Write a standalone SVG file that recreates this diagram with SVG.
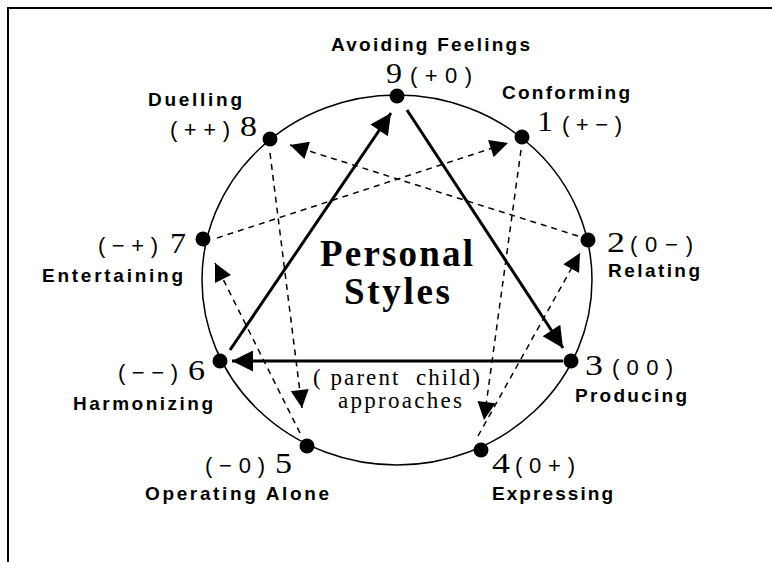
<svg xmlns="http://www.w3.org/2000/svg" width="772" height="562" viewBox="0 0 772 562">
<style>
.lab{font-family:"Liberation Sans",Arial,sans-serif;font-weight:bold;font-size:19px;fill:#000}
.num{font-family:"Liberation Serif","Times New Roman",serif;font-size:30px;fill:#000}
.sig{font-family:"Liberation Sans",Arial,sans-serif;font-size:22px;fill:#000}
.title{font-family:"Liberation Serif","Times New Roman",serif;font-weight:bold;font-size:37px;fill:#000}
.sub{font-family:"Liberation Serif","Times New Roman",serif;font-size:23px;fill:#000}
.solid{stroke:#000;stroke-width:3;fill:none}
.dash{stroke:#000;stroke-width:1.5;stroke-dasharray:6,5;fill:none}
.dot{fill:#000}
</style>
<defs>
<marker id="big" viewBox="0 0 10 10" refX="10" refY="5" markerWidth="9.5" markerHeight="7" markerUnits="strokeWidth" orient="auto">
<path d="M0,0 L10,5 L0,10 z" fill="#000"/>
</marker>
<marker id="small" viewBox="0 0 10 10" refX="10" refY="5" markerWidth="13" markerHeight="12" markerUnits="strokeWidth" orient="auto">
<path d="M0,0 L10,5 L0,10 z" fill="#000"/>
</marker>
</defs>
<rect x="0" y="0" width="772" height="562" fill="#fff"/>
<path d="M8,562 V8 H772" stroke="#000" stroke-width="2" fill="none"/>
<ellipse cx="397" cy="280" rx="195" ry="185" fill="none" stroke="#000" stroke-width="1.5"/>
<g id="connectors">
<line class="solid" x1="230" y1="350" x2="391" y2="113" marker-end="url(#big)"/>
<line class="solid" x1="407" y1="110" x2="563" y2="348" marker-end="url(#big)"/>
<line class="solid" x1="563" y1="361" x2="232" y2="361" marker-end="url(#big)"/>
<line class="dash" x1="521" y1="150" x2="484" y2="420" marker-end="url(#small)"/>
<line class="dash" x1="478" y1="436" x2="580" y2="253" marker-end="url(#small)"/>
<line class="dash" x1="578" y1="236" x2="290" y2="145" marker-end="url(#small)"/>
<line class="dash" x1="270" y1="153" x2="302" y2="408" marker-end="url(#small)"/>
<line class="dash" x1="300" y1="433" x2="215" y2="263" marker-end="url(#small)"/>
<line class="dash" x1="217" y1="238" x2="508" y2="143" marker-end="url(#small)"/>
</g>
<g id="n9"><circle class="dot" cx="397" cy="96" r="7.5"/><text class="lab" x="331" y="51" textLength="199" lengthAdjust="spacing">Avoiding Feelings</text><text class="num" x="386" y="83" textLength="16" lengthAdjust="spacingAndGlyphs">9</text><text class="sig" x="410" y="83" textLength="62" lengthAdjust="spacing">(+0)</text></g>
<g id="n1"><circle class="dot" cx="522" cy="137" r="7.5"/><text class="lab" x="502" y="99" textLength="128" lengthAdjust="spacing">Conforming</text><text class="num" x="537" y="131" textLength="16" lengthAdjust="spacingAndGlyphs">1</text><text class="sig" x="562" y="132" textLength="60" lengthAdjust="spacing">(+−)</text></g>
<g id="n2"><circle class="dot" cx="588" cy="240" r="7.5"/><text class="num" x="607" y="252" textLength="18" lengthAdjust="spacingAndGlyphs">2</text><text class="sig" x="630" y="252" textLength="63" lengthAdjust="spacing">(0−)</text><text class="lab" x="608" y="277" textLength="92" lengthAdjust="spacing">Relating</text></g>
<g id="n3"><circle class="dot" cx="571" cy="361" r="7.5"/><text class="num" x="585" y="375" textLength="18" lengthAdjust="spacingAndGlyphs">3</text><text class="sig" x="612" y="375" textLength="61" lengthAdjust="spacing">(00)</text><text class="lab" x="575" y="402" textLength="112" lengthAdjust="spacing">Producing</text></g>
<g id="n4"><circle class="dot" cx="481" cy="450" r="7.5"/><text class="num" x="492" y="473" textLength="18" lengthAdjust="spacingAndGlyphs">4</text><text class="sig" x="515" y="473" textLength="60" lengthAdjust="spacing">(0+)</text><text class="lab" x="492" y="500" textLength="121" lengthAdjust="spacing">Expressing</text></g>
<g id="n5"><circle class="dot" cx="307" cy="446" r="7.5"/><text class="sig" x="205" y="473" textLength="60" lengthAdjust="spacing">(−0)</text><text class="num" x="275" y="473" textLength="17" lengthAdjust="spacingAndGlyphs">5</text><text class="lab" x="145" y="500" textLength="184" lengthAdjust="spacing">Operating Alone</text></g>
<g id="n6"><circle class="dot" cx="220" cy="361" r="7.5"/><text class="sig" x="118" y="380" textLength="60" lengthAdjust="spacing">(−−)</text><text class="num" x="188" y="380" textLength="17" lengthAdjust="spacingAndGlyphs">6</text><text class="lab" x="73" y="410" textLength="140" lengthAdjust="spacing">Harmonizing</text></g>
<g id="n7"><circle class="dot" cx="203" cy="239" r="7.5"/><text class="sig" x="98" y="253" textLength="60" lengthAdjust="spacing">(−+)</text><text class="num" x="170" y="253" textLength="16" lengthAdjust="spacingAndGlyphs">7</text><text class="lab" x="42" y="282" textLength="141" lengthAdjust="spacing">Entertaining</text></g>
<g id="n8"><circle class="dot" cx="270" cy="139" r="7.5"/><text class="lab" x="148" y="106" textLength="94" lengthAdjust="spacing">Duelling</text><text class="sig" x="170" y="137" textLength="60" lengthAdjust="spacing">(++)</text><text class="num" x="240" y="136" textLength="17" lengthAdjust="spacingAndGlyphs">8</text></g>
<g id="center"><text class="title" x="320" y="266" textLength="153" lengthAdjust="spacing">Personal</text><text class="title" x="344" y="304" textLength="106" lengthAdjust="spacing">Styles</text><text class="sub" x="313" y="385" textLength="167" lengthAdjust="spacing">( parent &#160;child)</text><text class="sub" x="338" y="408" textLength="124" lengthAdjust="spacing">approaches</text></g>
</svg>
